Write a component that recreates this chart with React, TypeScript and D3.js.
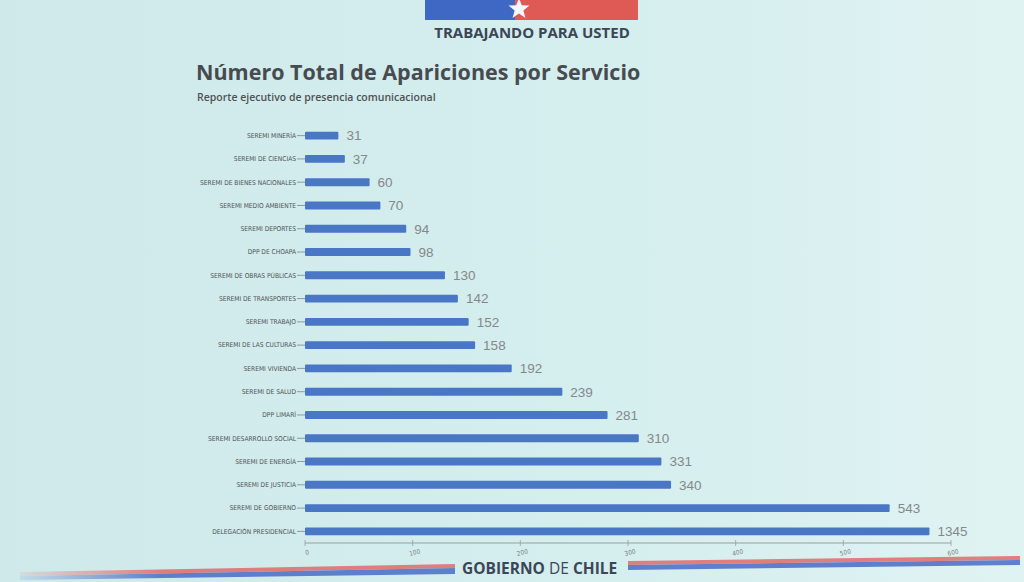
import React from 'react'
import * as d3 from 'd3'

const width = 1024
const height = 582

const services = [
  'SEREMI MINERÍA',
  'SEREMI DE CIENCIAS',
  'SEREMI DE BIENES NACIONALES',
  'SEREMI MEDIO AMBIENTE',
  'SEREMI DEPORTES',
  'DPP DE CHOAPA',
  'SEREMI DE OBRAS PÚBLICAS',
  'SEREMI DE TRANSPORTES',
  'SEREMI TRABAJO',
  'SEREMI DE LAS CULTURAS',
  'SEREMI VIVIENDA',
  'SEREMI DE SALUD',
  'DPP LIMARÍ',
  'SEREMI DESARROLLO SOCIAL',
  'SEREMI DE ENERGÍA',
  'SEREMI DE JUSTICIA',
  'SEREMI DE GOBIERNO',
  'DELEGACIÓN PRESIDENCIAL',
]
const appearances = [31, 37, 60, 70, 94, 98, 130, 142, 152, 158, 192, 239, 281, 310, 331, 340, 543, 1345]
const xTicks = [0, 100, 200, 300, 400, 500, 600]
// the longest bar is cut short on the original slide
const barCap = 580

const barColor = '#4a76c6'
const bg = '#d5eeee'

const x = d3.scaleLinear().domain([0, 600]).range([305, 951])
const y = d3.scaleBand().domain(services).range([124, 543]).paddingInner(0.66).paddingOuter(0.33)

const star = (cx: number, cy: number, r: number) => {
  const pts: string[] = []
  for (let i = 0; i < 10; i++) {
    const rad = i % 2 === 0 ? r : r * 0.42
    const a = -Math.PI / 2 + (i * Math.PI) / 5
    pts.push(`${cx + rad * Math.cos(a)},${cy + rad * Math.sin(a)}`)
  }
  return pts.join(' ')
}

const App = () => {
  const data = services.map((s, i) => ({ service: s, value: appearances[i] }))
  return (
    <svg width={width} height={height} style={{ display: 'block', position: 'fixed', top: 0, left: 0 }}>
      <defs>
        <linearGradient id="bgGrad" x1="0" y1="0" x2="1" y2="0">
          <stop offset="0" stopColor="#cfe9ea" />
          <stop offset="0.6" stopColor={bg} />
          <stop offset="1" stopColor="#e0f3f3" />
        </linearGradient>
        <linearGradient id="fadeL" x1="0" y1="0" x2="1" y2="0">
          <stop offset="0" stopColor="#fff" stopOpacity="0" />
          <stop offset="0.35" stopColor="#fff" stopOpacity="1" />
        </linearGradient>
        <mask id="leftFade">
          <rect x={0} y={540} width={460} height={42} fill="url(#fadeL)" />
        </mask>
      </defs>
      <rect width={width} height={height} fill="url(#bgGrad)" />

      {/* header logo */}
      <rect x={425} y={0} width={90} height={20} fill="#3f68c4" />
      <rect x={515} y={0} width={123} height={20} fill="#e05a55" />
      <polygon points={star(519, 9, 11)} fill="#f4f7fb" />
      <text x={532} y={38} textAnchor="middle" fontFamily="'Open Sans', sans-serif" fontWeight={700}
        fontSize={15} fill="#3b4657">TRABAJANDO PARA USTED</text>

      <text x={196} y={80} fontFamily="'Open Sans', sans-serif" fontWeight={700} fontSize={21.5}
        fill="#474b4f">Número Total de Apariciones por Servicio</text>
      <text x={197} y={101} fontFamily="'Open Sans', sans-serif" fontWeight={600} fontSize={10.5}
        fill="#4e5256">Reporte ejecutivo de presencia comunicacional</text>

      {/* bars */}
      {data.map(d => {
        const yy = y(d.service) as number
        const cy = yy + y.bandwidth() / 2
        const end = x(Math.min(d.value, barCap))
        return (
          <g key={d.service}>
            <text x={296} y={cy} dy="0.35em" textAnchor="end"
              fontFamily="'DejaVu Sans Condensed', 'DejaVu Sans', sans-serif" fontSize={6.6}
              fill="#4f5357">{d.service}</text>
            <line x1={297} x2={x(0)} y1={cy} y2={cy} stroke="#7f8486" strokeWidth={0.8} />
            <rect x={x(0)} y={yy} width={end - x(0)} height={y.bandwidth()} fill={barColor} rx={1} />
            <text x={end + 8} y={cy} dy="0.36em"
              fontFamily="'Liberation Sans', Arial, sans-serif" fontSize={13.5} fill="#84888b">{d.value}</text>
          </g>
        )
      })}

      {/* x axis */}
      <line x1={x(0)} x2={x(600)} y1={543} y2={543} stroke="#9a9ea0" strokeWidth={1} />
      {xTicks.map(t => (
        <g key={t} transform={`translate(${x(t)},543)`}>
          <line y1={-3} y2={3} stroke="#9a9ea0" strokeWidth={0.8} />
          <text y={12} textAnchor="middle" transform="rotate(-12)"
            fontFamily="'DejaVu Sans Condensed', sans-serif" fontSize={6.5} fill="#7d8184">{t}</text>
        </g>
      ))}

      {/* footer */}
      <g mask="url(#leftFade)" opacity={0.85}>
        <polygon points="20,572 455,564 455,568 20,576" fill="#e06b6a" />
        <polygon points="20,576 455,568 455,574 20,580" fill="#4a6cc6" />
      </g>
      <g opacity={0.85}>
        <polygon points="628,561 1020,556 1020,560 628,565" fill="#e06b6a" />
        <polygon points="628,565 1020,560 1020,565 628,570" fill="#4a6cc6" />
      </g>
      <text x={462} y={574} fontFamily="'Open Sans', sans-serif" fontSize={15.5} fill="#3b4657">
        <tspan fontWeight={700}>GOBIERNO</tspan>
        <tspan fontWeight={400}> DE </tspan>
        <tspan fontWeight={700}>CHILE</tspan>
      </text>
    </svg>
  )
}

export default App
